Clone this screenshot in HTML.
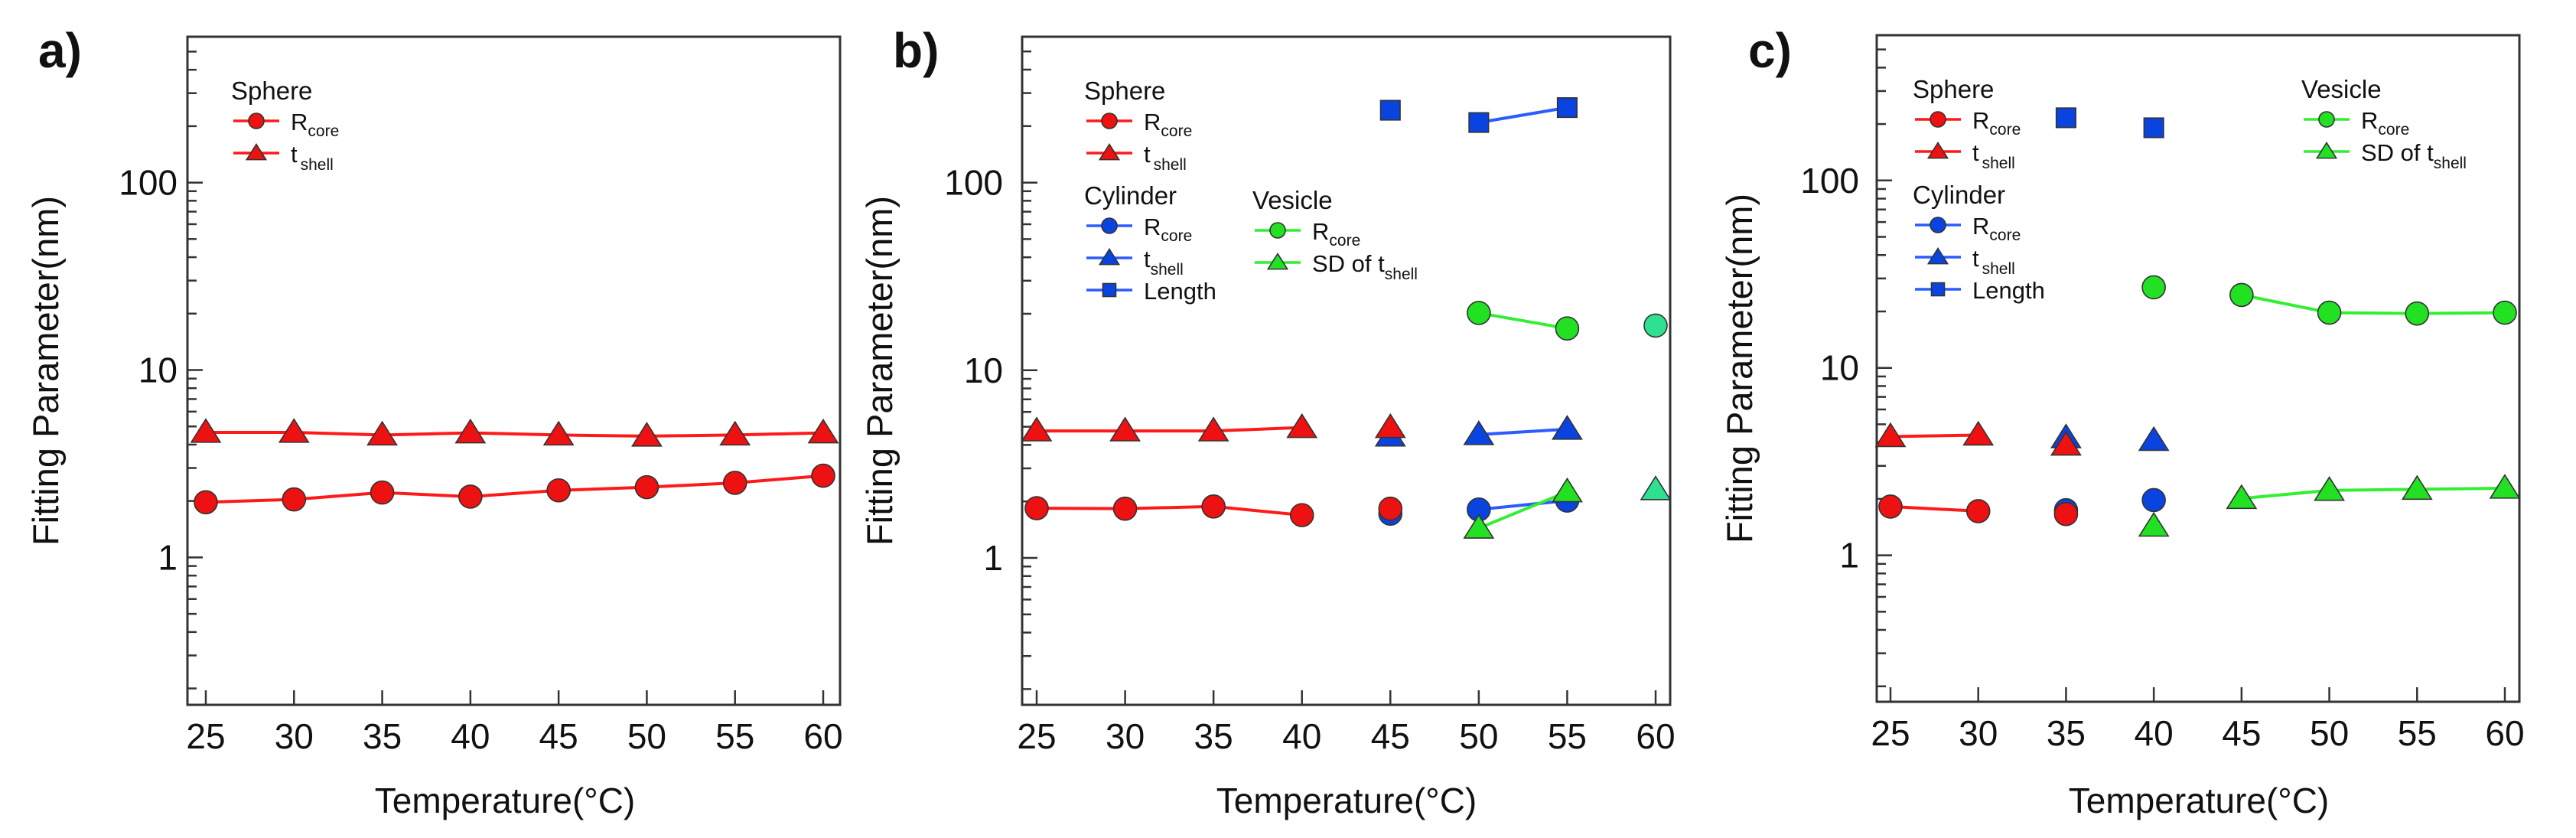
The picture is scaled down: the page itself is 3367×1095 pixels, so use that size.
<!DOCTYPE html>
<html><head><meta charset="utf-8"><style>
html,body{margin:0;padding:0;background:#fff}
svg{display:block}
text{font-family:"Liberation Sans",Arial,sans-serif;fill:#111}
</style></head><body>
<svg id="fig" width="3367" height="1095" viewBox="0 0 3367 1095" xmlns="http://www.w3.org/2000/svg"></svg>
<script>
// ---- data ----
const temps = [25,30,35,40,45,50,55,60];
const xTickLabels = ["25","30","35","40","45","50","55","60"];
const yTickLabels = ["1","10","100"];
const yTickValues = [1,10,100];
// Panel a
const aSphereR = [1.97,2.04,2.22,2.11,2.28,2.37,2.50,2.73];
const aSphereT = [4.65,4.65,4.50,4.62,4.50,4.44,4.50,4.62];
// Panel b (null = no point)
const bSphereR = [1.84,1.83,1.88,1.69,1.83,null,null,null];
const bSphereT = [4.75,4.75,4.75,4.95,4.95,null,null,null];
const bCylR = [null,null,null,null,1.72,1.81,2.02,null];
const bCylT = [null,null,null,null,4.46,4.54,4.85,null];
const bCylL = [null,null,null,null,243,209,251,null];
const bVesR = [null,null,null,null,null,20.2,16.7,17.3];
const bVesSD = [null,null,null,null,null,1.44,2.25,2.31];
// Panel c
const cSphereR = [1.82,1.72,1.66,null,null,null,null,null];
const cSphereT = [4.30,4.38,3.87,null,null,null,null,null];
const cCylR = [null,null,1.74,1.97,null,null,null,null];
const cCylT = [null,null,4.24,4.10,null,null,null,null];
const cCylL = [null,null,216,191,null,null,null,null];
const cVesR = [null,null,null,26.9,24.5,19.7,19.5,19.7];
const cVesSD = [null,null,null,1.43,2.01,2.22,2.25,2.28];

const NS="http://www.w3.org/2000/svg";
const svg=document.getElementById('fig');
function mk(tag,attrs,parent){const e=document.createElementNS(NS,tag);for(const k in attrs)e.setAttribute(k,attrs[k]);(parent||svg).appendChild(e);return e;}

const RED={fill:'#ee1111',line:'#ff1a1a'}, BLUE={fill:'#0a44e0',line:'#2a5cff'}, GREEN={fill:'#22e022',line:'#33ee33'};

function marker(g,shape,cx,cy,col,s){
  let e;
  if(shape==='circle') e=mk('circle',{cx:cx,cy:cy,r:s,fill:col.fill,stroke:'#333','stroke-width':1.6},g);
  else if(shape==='tri'){const h=s*1.15;e=mk('polygon',{points:`${cx},${cy-h} ${cx-h*1.1},${cy+h*0.75} ${cx+h*1.1},${cy+h*0.75}`,fill:col.fill,stroke:'#333','stroke-width':1.6},g);}
  else e=mk('rect',{x:cx-s*0.85,y:cy-s*0.85,width:s*1.7,height:s*1.7,fill:col.fill,stroke:'#333','stroke-width':1.6},g);
  return e;
}

function panel(P){
  const g=mk('g',{});
  
  
  const X=t=>P.x25+(t-25)*(P.x60-P.x25)/35;
  const Y=v=>P.y1-Math.log10(v)*(P.y1-P.y100)/2;
  // frame
  const fr=mk('rect',{x:P.L,y:P.T,width:P.R-P.L,height:P.B-P.T,fill:'none',stroke:'#333','stroke-width':3},g);
  
  
  // y ticks
  for(let d=-1;d<=2;d++){for(let m=1;m<=9;m++){const v=m*Math.pow(10,d);const y=Y(v);if(y<P.T+2||y>P.B-2)continue;
    const len=m===1?20:12;mk('line',{x1:P.L,x2:P.L+len,y1:y,y2:y,stroke:'#333','stroke-width':2.5},g);}}
  yTickValues.forEach((v,i)=>{const t=mk('text',{x:P.ytx,y:Y(v)+16,'text-anchor':'end','font-size':46},g);t.textContent=yTickLabels[i];
    });
  temps.forEach((tv,i)=>{const x=X(tv);mk('line',{x1:x,x2:x,y1:P.B,y2:P.B-19,stroke:'#333','stroke-width':2.5},g);
    const t=mk('text',{x:x,y:P.B+57,'text-anchor':'middle','font-size':46},g);t.textContent=xTickLabels[i];
    });
  // titles
  const yt=mk('text',{x:0,y:0,'text-anchor':'middle','font-size':47,transform:`translate(${P.ytitleX},${(P.T+P.B)/2}) rotate(-90)`},g);
  yt.textContent='Fitting Parameter(nm)';
  
  const xt=mk('text',{x:P.xtitleX,y:1062,'text-anchor':'middle','font-size':46},g);
  xt.textContent='Temperature(°C)';
  
  const pl=mk('text',{x:P.labX,y:88,'font-size':64,'font-weight':'bold'},g);
  pl.textContent=P.id+')';
  
  // series
  P.series.forEach(s=>{
    const sg=mk('g',{},g);
    
    
    // line segments between consecutive non-null points in allowed range
    for(let i=0;i<temps.length-1;i++){
      if(s.vals[i]==null||s.vals[i+1]==null)continue;
      if(i<s.l0||i+1>s.l1)continue;
      mk('line',{x1:X(temps[i]),y1:Y(s.vals[i]),x2:X(temps[i+1]),y2:Y(s.vals[i+1]),stroke:s.col.line,'stroke-width':4},sg);
    }
    s.vals.forEach((v,i)=>{if(v==null)return;
      const col=(s.alt&&s.alt[i])?s.alt[i]:s.col;
      const m=marker(sg,s.shape,X(temps[i]),Y(v),col,s.shape==='sq'?15:15);
      
      });
  });
  // legend
  P.legend.forEach(L=>{
    const lg=mk('g',{},g);
    
    
    const tt=mk('text',{x:L.x,y:L.y,'font-size':33},lg);tt.textContent=L.title;
    L.rows.forEach((r,k)=>{const cy=L.y+28+k*42;
      mk('line',{x1:L.x+3,x2:L.x+63,y1:cy,y2:cy,stroke:L.col.line,'stroke-width':3.5},lg);
      marker(lg,r.shape,L.x+33,cy,L.col,10);
      const t=mk('text',{x:L.x+78,y:cy+12,'font-size':31},lg);
      
      
      t.innerHTML=r.html;});
  });
}
const RC='R<tspan font-size="21" dy="8">core</tspan>';
const TS='t<tspan font-size="21" dy="10" dx="4">shell</tspan>';
const TS2='t<tspan font-size="21" dy="10">shell</tspan>';
const SD='SD of t<tspan font-size="21" dy="10">shell</tspan>';
const MINT={fill:'#2ee090',line:'#2ee090'};

panel({id:'a',L:245,R:1098,T:48,B:921,x25:269,x60:1076,y100:238.6,y1:728.4,ytx:232,ytitleX:76,xtitleX:660,labX:50,
  series:[{name:'series-sphere-tshell',vals:aSphereT,shape:'tri',col:RED,l0:0,l1:7},
          {name:'series-sphere-rcore',vals:aSphereR,shape:'circle',col:RED,l0:0,l1:7}],
  legend:[{title:'Sphere',x:302,y:130,col:RED,rows:[{shape:'circle',html:RC},{shape:'tri',html:TS}]}]});

panel({id:'b',L:1336,R:2183,T:48,B:921,x25:1355,x60:2164,y100:238.6,y1:729,ytx:1311,ytitleX:1166,xtitleX:1760,labX:1167,
  series:[{name:'series-cylinder-length',vals:bCylL,shape:'sq',col:BLUE,l0:5,l1:6},
          {name:'series-cylinder-tshell',vals:bCylT,shape:'tri',col:BLUE,l0:5,l1:6},
          {name:'series-cylinder-rcore',vals:bCylR,shape:'circle',col:BLUE,l0:5,l1:6},
          {name:'series-sphere-tshell',vals:bSphereT,shape:'tri',col:RED,l0:0,l1:3},
          {name:'series-sphere-rcore',vals:bSphereR,shape:'circle',col:RED,l0:0,l1:3},
          {name:'series-vesicle-rcore',vals:bVesR,shape:'circle',col:GREEN,l0:5,l1:6,alt:{7:MINT}},
          {name:'series-vesicle-sd',vals:bVesSD,shape:'tri',col:GREEN,l0:5,l1:6,alt:{7:MINT}}],
  legend:[{title:'Sphere',x:1417,y:130,col:RED,rows:[{shape:'circle',html:RC},{shape:'tri',html:TS}]},
          {title:'Cylinder',x:1417,y:267,col:BLUE,rows:[{shape:'circle',html:RC},{shape:'tri',html:TS2},{shape:'sq',html:'Length'}]},
          {title:'Vesicle',x:1637,y:273,col:GREEN,rows:[{shape:'circle',html:RC},{shape:'tri',html:SD}]}]});

panel({id:'c',L:2453,R:3293,T:46,B:917,x25:2471,x60:3274,y100:235.8,y1:725.6,ytx:2430,ytitleX:2290,xtitleX:2874,labX:2285,
  series:[{name:'series-cylinder-length',vals:cCylL,shape:'sq',col:BLUE,l0:9,l1:9},
          {name:'series-cylinder-tshell',vals:cCylT,shape:'tri',col:BLUE,l0:9,l1:9},
          {name:'series-cylinder-rcore',vals:cCylR,shape:'circle',col:BLUE,l0:9,l1:9},
          {name:'series-sphere-tshell',vals:cSphereT,shape:'tri',col:RED,l0:0,l1:1},
          {name:'series-sphere-rcore',vals:cSphereR,shape:'circle',col:RED,l0:0,l1:1},
          {name:'series-vesicle-rcore',vals:cVesR,shape:'circle',col:GREEN,l0:4,l1:7},
          {name:'series-vesicle-sd',vals:cVesSD,shape:'tri',col:GREEN,l0:4,l1:7}],
  legend:[{title:'Sphere',x:2500,y:128,col:RED,rows:[{shape:'circle',html:RC},{shape:'tri',html:TS}]},
          {title:'Cylinder',x:2500,y:266,col:BLUE,rows:[{shape:'circle',html:RC},{shape:'tri',html:TS},{shape:'sq',html:'Length'}]},
          {title:'Vesicle',x:3008,y:128,col:GREEN,rows:[{shape:'circle',html:RC},{shape:'tri',html:SD}]}]});
</script>
</body></html>
